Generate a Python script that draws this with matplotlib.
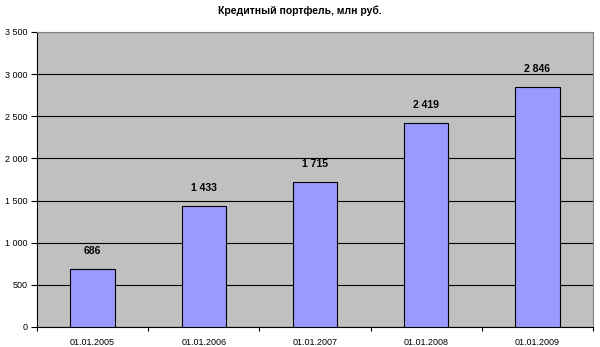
import matplotlib
matplotlib.use('Agg')
from matplotlib import pyplot as plt
import numpy as np

categories = ['01.01.2005', '01.01.2006', '01.01.2007', '01.01.2008', '01.01.2009']
values = [686, 1433, 1715, 2419, 2846]
yticks = [0, 500, 1000, 1500, 2000, 2500, 3000, 3500]

plt.rcParams['font.family'] = ['Liberation Sans', 'DejaVu Sans']

def fmt(v):
    return '{:,}'.format(v).replace(',', ' ')

fig = plt.figure(figsize=(6.0, 3.47), dpi=100)
ax = fig.add_axes([37/600, 1-327/347, 556/600, 295/347])
ax.set_facecolor('#C0C0C0')

x = np.arange(len(categories))
ax.bar(x, values, width=0.4, color='#9999FF', edgecolor='black', linewidth=0.8, zorder=3)
for xi, v in zip(x, values):
    ax.annotate(fmt(v), (xi, v), xytext=(0, 13), textcoords='offset points',
                ha='center', va='center', fontsize=7.5, fontweight='bold', zorder=4)

ax.set_xlim(-0.5, len(categories) - 0.5)
ax.set_ylim(0, 3500)
ax.set_yticks(yticks)
ax.set_yticklabels([fmt(t) for t in yticks], fontsize=6.5)
ax.yaxis.grid(True, color='black', linewidth=0.8, zorder=1)
ax.set_axisbelow(True)

ax.set_xticks(x)
ax.set_xticklabels(categories, fontsize=6.5)
ax.tick_params(axis='x', length=0, pad=8)
ax.set_xticks(np.arange(-0.5, len(categories)), minor=True)
ax.tick_params(axis='x', which='minor', length=3, width=0.8)
ax.tick_params(axis='y', length=4, width=0.8, pad=3)

ax.spines['top'].set_color('#808080')
ax.spines['right'].set_color('#808080')
ax.spines['left'].set_color('black')
ax.spines['bottom'].set_color('black')

fig.suptitle('Кредитный портфель, млн руб.', x=0.5, y=0.985, fontsize=7.5, fontweight='bold')

fig.savefig('out.png', dpi=100, facecolor='white')
